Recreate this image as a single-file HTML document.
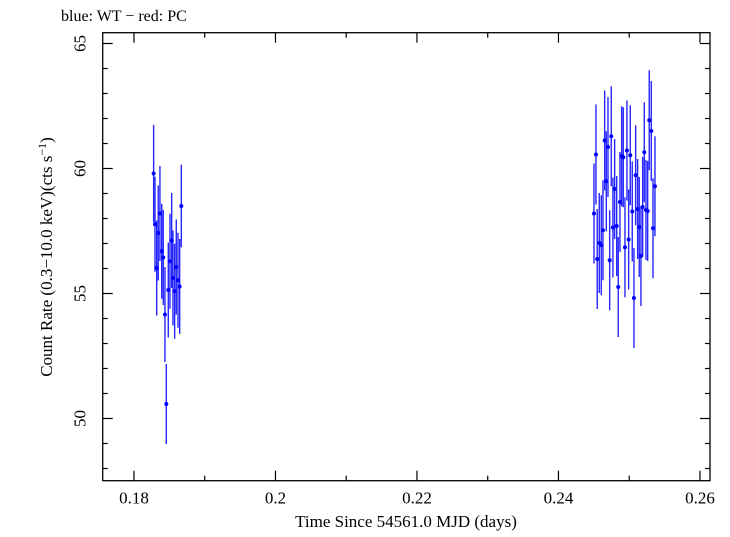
<!DOCTYPE html>
<html><head><meta charset="utf-8"><style>
body{margin:0;background:#fff;}
svg text{font-family:"Liberation Serif",serif;fill:#000;}
</style></head><body>
<svg id="chart" width="730" height="532" xmlns="http://www.w3.org/2000/svg">
<text x="61" y="21" font-size="16">blue: WT − red: PC</text>
<rect x="102.7" y="32.7" width="607.3" height="448" fill="none" stroke="#000" stroke-width="1.3"/>
<g id="axes"></g>
<g id="marks"></g>
<text x="406" y="527" font-size="17" text-anchor="middle">Time Since 54561.0 MJD (days)</text>
<text transform="translate(52,257) rotate(-90)" font-size="17" text-anchor="middle">Count Rate (0.3−10.0 keV)(cts s<tspan dy="-6" font-size="12">−1</tspan><tspan dy="6">)</tspan></text>
</svg>
<script>
const timesWT = [0.18278,0.18297,0.18321,0.18343,0.18367,0.18392,0.18414,0.18438,0.18457,0.18485,0.18509,0.18533,0.18551,0.18575,0.18598,0.18622,0.18646,0.18669,
0.24530,0.24502,0.24548,0.24577,0.24605,0.24629,0.24653,0.24676,0.24700,0.24724,0.24746,0.24770,0.24794,0.24823,0.24845,0.24869,0.24893,0.24916,0.24940,0.24968,0.24992,0.25015,0.25043,0.25067,0.25091,0.25119,0.25142,0.25166,0.25190,0.25213,0.25237,0.25261,0.25283,0.25312,0.25336,0.25364];
const ratesWT = [59.8,57.77,56.02,57.42,58.2,56.69,56.44,54.16,50.58,55.14,56.29,57.12,55.62,55.09,56.06,55.53,55.28,58.5,
60.56,58.2,56.38,57.02,56.93,57.53,61.12,59.49,60.86,56.33,61.29,57.64,59.18,57.7,55.26,58.66,60.49,60.45,56.85,60.72,57.16,60.53,58.28,54.82,59.73,58.38,57.66,56.5,58.46,60.65,58.34,58.3,61.93,61.5,57.61,59.29];
const errorsWT = [1.95,1.9,1.9,1.9,1.9,1.9,1.9,1.9,1.6,1.9,1.9,1.9,1.9,1.9,1.9,1.9,1.9,1.65,
2.0,2.0,2.0,2.0,2.0,2.0,2.0,2.0,2.0,2.0,2.0,2.0,2.0,2.0,2.0,2.0,2.0,2.0,2.0,2.0,2.0,2.0,2.0,2.0,2.0,2.0,2.0,2.0,2.0,2.0,2.0,2.0,2.0,2.0,2.0,2.0];
const xTicks = [0.18,0.2,0.22,0.24,0.26];
const xTickLabels = ["0.18","0.2","0.22","0.24","0.26"];
const yTicks = [50,55,60,65];
const yTickLabels = ["50","55","60","65"];

const L=102.7,R=710,T=32.7,B=480.7;
const xMin=0.17558,xMax=0.26142,yMin=47.512,yMax=65.432;
const X=v=>L+(v-xMin)/(xMax-xMin)*(R-L);
const Y=v=>B-(v-yMin)/(yMax-yMin)*(B-T);
const NS="http://www.w3.org/2000/svg";
const axes=document.getElementById('axes'),marks=document.getElementById('marks');
function mk(tag,attrs,parent){const e=document.createElementNS(NS,tag);for(const k in attrs)e.setAttribute(k,attrs[k]);parent.appendChild(e);return e;}
// x ticks major & minor
for(let v=0.18;v<=0.2601;v+=0.01){
  const major=Math.abs(Math.round(v*100)%2)===0;const len=major?10:5;const x=X(v);
  const t1=mk('line',{x1:x,x2:x,y1:B,y2:B-len,stroke:'#000','stroke-width':1.2},axes);
  
  
  const t2=mk('line',{x1:x,x2:x,y1:T,y2:T+len,stroke:'#000','stroke-width':1.2},axes);
  
  
}
xTicks.forEach((v,i)=>{const t=mk('text',{x:X(v),y:B+23,'font-size':17,'text-anchor':'middle'},axes);t.textContent=xTickLabels[i];
  
  });
for(let v=48;v<=65;v++){
  const major=v%5===0;const len=major?10:5;const y=Y(v);
  const t1=mk('line',{x1:L,x2:L+len,y1:y,y2:y,stroke:'#000','stroke-width':1.2},axes);
  
  
  const t2=mk('line',{x1:R,x2:R-len,y1:y,y2:y,stroke:'#000','stroke-width':1.2},axes);
  
  
}
yTicks.forEach((v,i)=>{const t=mk('text',{transform:`translate(${L-17},${Y(v)}) rotate(-90)`,'font-size':17,'text-anchor':'middle'},axes);t.textContent=yTickLabels[i];
  
  });
timesWT.forEach((t,i)=>{
  const x=X(t);
  const l=mk('line',{x1:x,x2:x,y1:Y(ratesWT[i]-errorsWT[i]),y2:Y(ratesWT[i]+errorsWT[i]),stroke:'#0000ff','stroke-width':1.4,'stroke-opacity':0.85},marks);
  
  
  const c=mk('circle',{cx:x,cy:Y(ratesWT[i]),r:2,fill:'#0000ff'},marks);
  
  
});
</script>
</body></html>
